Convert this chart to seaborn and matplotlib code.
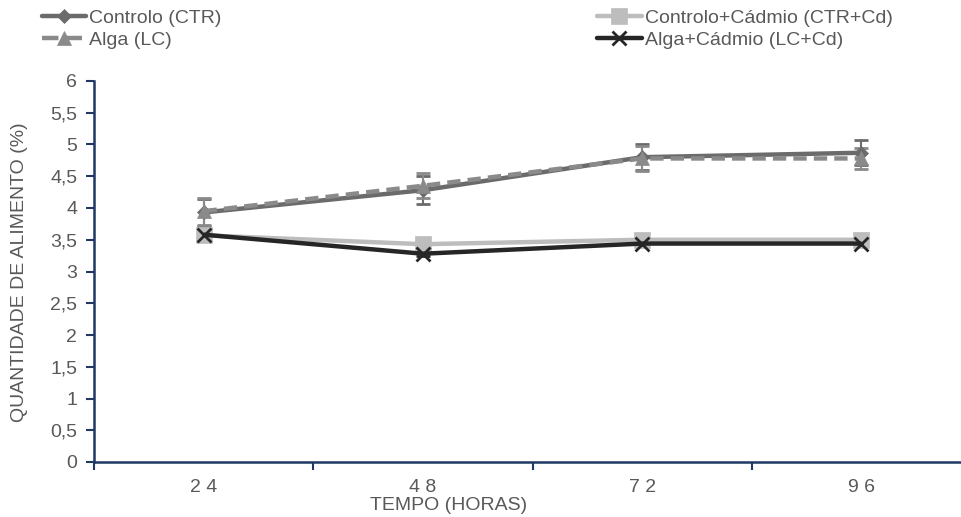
import matplotlib
matplotlib.use("Agg")
import matplotlib.pyplot as plt
import seaborn as sns
import pandas as pd
import numpy as np
from matplotlib.lines import Line2D

tempos = ["24", "48", "72", "96"]
series_names = ["Controlo (CTR)", "Alga (LC)", "Controlo+Cádmio (CTR+Cd)", "Alga+Cádmio (LC+Cd)"]
ctr = [3.93, 4.28, 4.80, 4.87]
lc = [3.95, 4.35, 4.78, 4.78]
ctr_cd = [3.57, 3.43, 3.50, 3.50]
lc_cd = [3.58, 3.28, 3.44, 3.44]
ctr_err = [0.21, 0.22, 0.20, 0.20]
lc_err = [0.21, 0.20, 0.20, 0.17]
ctr_cd_err = [0.03, 0.03, 0.03, 0.03]
lc_cd_err = [0.03, 0.03, 0.03, 0.03]
yticks = [0, 0.5, 1, 1.5, 2, 2.5, 3, 3.5, 4, 4.5, 5, 5.5, 6]

sns.set_style("white")
plt.rcParams['font.family'] = ['Liberation Sans', 'DejaVu Sans']

values = [ctr, lc, ctr_cd, lc_cd]
errs = [ctr_err, lc_err, ctr_cd_err, lc_cd_err]
rows = []
for name, vals in zip(series_names, values):
    for i, v in enumerate(vals):
        rows.append({"pos": i, "tempo": tempos[i], "serie": name, "valor": v})
df = pd.DataFrame(rows)

colors = {"Controlo (CTR)": "#6b6b6b", "Alga (LC)": "#8a8a8a",
          "Controlo+Cádmio (CTR+Cd)": "#bdbdbd", "Alga+Cádmio (LC+Cd)": "#262626"}
markers = {"Controlo (CTR)": "D", "Alga (LC)": "^",
           "Controlo+Cádmio (CTR+Cd)": "s", "Alga+Cádmio (LC+Cd)": "x"}
msizes = {"Controlo (CTR)": 7, "Alga (LC)": 10,
          "Controlo+Cádmio (CTR+Cd)": 11, "Alga+Cádmio (LC+Cd)": 10}
dashes = {"Controlo (CTR)": (1, 0), "Alga (LC)": (3, 1.6),
          "Controlo+Cádmio (CTR+Cd)": (1, 0), "Alga+Cádmio (LC+Cd)": (1, 0)}

fig = plt.figure(figsize=(9.62, 5.17), dpi=100)
ax = fig.add_axes([94/962, 1-462/517, (971-94)/962, (462-81)/517])

order = ["Controlo+Cádmio (CTR+Cd)", "Alga+Cádmio (LC+Cd)", "Controlo (CTR)", "Alga (LC)"]
for name in order:
    idx = series_names.index(name)
    sub = df[df.serie == name]
    ax.errorbar(sub["pos"], sub["valor"], yerr=errs[idx], fmt="none",
                ecolor=colors[name], elinewidth=1.5, capsize=5, capthick=2, zorder=2)
    sns.lineplot(data=sub, x="pos", y="valor", ax=ax, color=colors[name],
                 linewidth=3.2, marker=markers[name], markersize=msizes[name],
                 markeredgecolor=colors[name],
                 markeredgewidth=2 if markers[name] == "x" else 0.5,
                 dashes=dashes[name], legend=False, zorder=3)

axis_col = "#1f3864"
text_col = "#595959"
fs = 14
ax.set_xlim(-0.5, 3.5)
ax.set_ylim(0, 6)
ax.set_yticks(yticks)
ax.set_yticklabels([("%g" % t).replace(".", ",") for t in yticks], color=text_col, fontsize=fs)
ax.set_xticks(range(len(tempos)))
ax.set_xticklabels([" ".join(t) for t in tempos], color=text_col, fontsize=fs)
ax.tick_params(axis="x", which="major", bottom=True, length=0, pad=12)
ax.set_xticks([-0.5, 0.5, 1.5, 2.5], minor=True)
ax.tick_params(axis="x", which="minor", bottom=True, length=6, width=1.5, color=axis_col, direction="out")
ax.tick_params(axis="y", which="major", left=True, length=6, width=1.5, color=axis_col, direction="out", pad=6)
for s in ["top", "right"]:
    ax.spines[s].set_visible(False)
for s in ["left", "bottom"]:
    ax.spines[s].set_color(axis_col)
    ax.spines[s].set_linewidth(1.8)
ax.set_xlabel("TEMPO (HORAS)", color=text_col, fontsize=fs)
ax.set_ylabel("QUANTIDADE DE ALIMENTO (%)", color=text_col, fontsize=fs)
ax.xaxis.set_label_coords((449 - 94) / (971 - 94), -(497 - 462) / 381)
ax.yaxis.set_label_coords(-(94 - 28) / 877, (462 - 272) / 381)

handles = []
for name in series_names:
    ls = "--" if name == "Alga (LC)" else "-"
    handles.append(Line2D([0], [0], color=colors[name], lw=3.2, ls=ls, marker=markers[name],
                          markersize=msizes[name], markeredgewidth=2 if markers[name] == "x" else 0.5,
                          markeredgecolor=colors[name]))
fig.legend(handles=handles, labels=series_names, ncol=2, loc="upper left",
           bbox_to_anchor=(30/962, 1.004), frameon=False, fontsize=fs,
           labelcolor=text_col, columnspacing=19.3, handlelength=2.3, handletextpad=0.15,
           labelspacing=0.2, borderaxespad=0.2)

fig.savefig("out.png", dpi=100)
